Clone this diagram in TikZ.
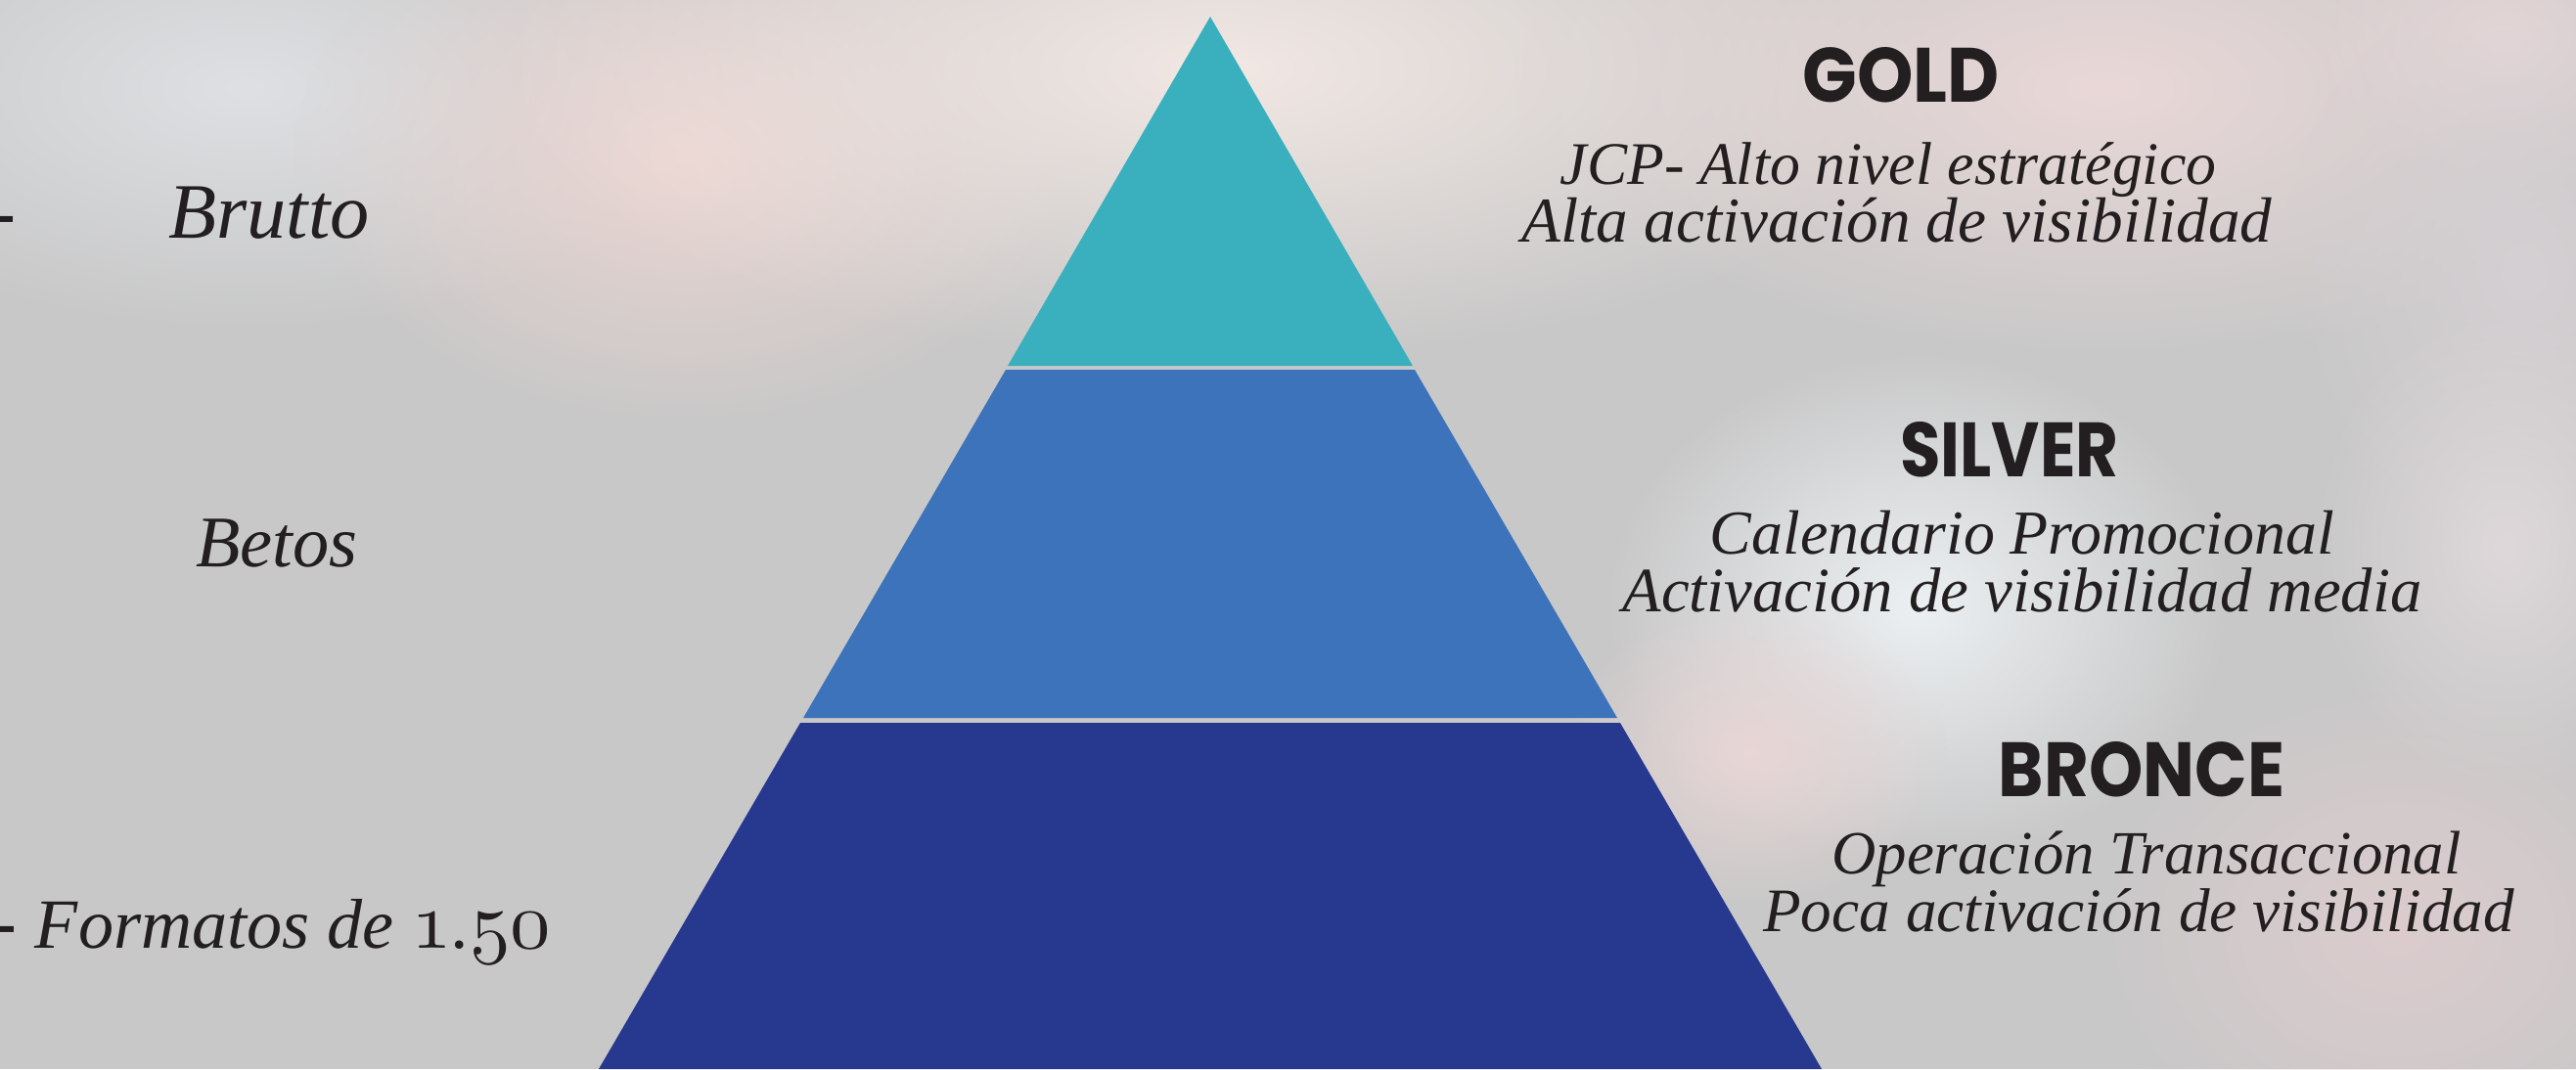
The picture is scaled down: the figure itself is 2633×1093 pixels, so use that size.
\documentclass[tikz,border=0pt]{standalone}
\usepackage{fontspec}
\setmainfont{Liberation Serif}
\newfontfamily\tierfont{Poppins}
\usepackage{graphicx}
\usetikzlibrary{fadings}
\tikzfading[name=softblob, inner color=transparent!0, outer color=transparent!100]
\definecolor{bgray}{HTML}{C8C8C8}
\definecolor{goldc}{HTML}{3AB0BF}
\definecolor{silverc}{HTML}{3D73BA}
\definecolor{bronzec}{HTML}{27388F}
\definecolor{inkc}{HTML}{231F20}
\newcommand\oldnum[1]{\scalebox{1.15}{\usefont{OML}{cmm}{m}{it}#1}}
\newcommand\fitw[2]{\resizebox{#1}{!}{#2}}
\newcommand\fith[3]{\resizebox{#1}{#2}{#3}}
\begin{document}
\begin{tikzpicture}[x=0.01cm,y=-0.01cm,
  head/.style={anchor=base, inner sep=0pt, outer sep=0pt, text=inkc},
  desc/.style={anchor=base, inner sep=0pt, outer sep=0pt, text=inkc, font=\itshape},
  blob/.style={path fading=softblob}]
\useasboundingbox (0,0) rectangle (2633,1093);
\begin{scope}
\clip (0,0) rectangle (2633,1093);
\fill[bgray] (0,0) rectangle (2633,1093);
\fill[blob, color={rgb,255:red,222;green,224;blue,227}] (250,90) ellipse [x radius=5cm, y radius=2.5cm];
\fill[blob, color={rgb,255:red,236;green,214;blue,210}] (700,160) ellipse [x radius=4cm, y radius=2.8cm];
\fill[blob, color={rgb,255:red,242;green,232;blue,228}] (1250,70) ellipse [x radius=7.5cm, y radius=3cm];
\fill[blob, color={rgb,255:red,234;green,216;blue,216}] (2150,90) ellipse [x radius=6cm, y radius=2.8cm];
\fill[blob, color={rgb,255:red,230;green,215;blue,216}] (2560,40) ellipse [x radius=2cm, y radius=1.5cm];
\fill[blob, color={rgb,255:red,213;green,208;blue,211}] (2580,280) ellipse [x radius=2.5cm, y radius=3cm];
\fill[blob, color={rgb,255:red,236;green,240;blue,242}] (1960,620) ellipse [x radius=3.2cm, y radius=2.6cm];
\fill[blob, color={rgb,255:red,233;green,214;blue,214}] (1790,770) ellipse [x radius=2cm, y radius=1.6cm];
\fill[blob, color={rgb,255:red,220;green,204;blue,206}] (2450,950) ellipse [x radius=3.2cm, y radius=2.6cm];
\fill[blob, color={rgb,255:red,222;green,216;blue,218}] (2560,560) ellipse [x radius=2cm, y radius=2.5cm];
\end{scope}
% pyramid tiers
\coordinate (apex) at (1237,17);
\fill[goldc] (apex) -- (1444,374) -- (1030,374) -- cycle;
\fill[silverc] (1028,378) -- (1446,378) -- (1653,734) -- (821,734) -- cycle;
\fill[bronzec] (818,739) -- (1656,739) -- (1862,1093) -- (612,1093) -- cycle;
% right labels
\node[head] (goldh) at (1943,104) {\fith{2.01cm}{0.56cm}{\tierfont\bfseries GOLD}};
\node[desc] (gold1) at (1930,188) {\fitw{6.70cm}{JCP- Alto nivel estratégico}};
\node[desc] (gold2) at (1939,247) {\fitw{7.66cm}{Alta activación de visibilidad}};
\node[head] (silverh) at (2054,487) {\fith{2.23cm}{0.56cm}{\tierfont\bfseries SILVER}};
\node[desc] (silver1) at (2067,566) {\fitw{6.38cm}{Calendario Promocional}};
\node[desc] (silver2) at (2067,625) {\fitw{8.16cm}{Activación de visibilidad media}};
\node[head] (bronceh) at (2189,814) {\fith{2.92cm}{0.56cm}{\tierfont\bfseries BRONCE}};
\node[desc] (bronce1) at (2194,893) {\fitw{6.43cm}{Operación Transaccional}};
\node[desc] (bronce2) at (2186,952) {\fitw{7.67cm}{Poca activación de visibilidad}};
% left labels
\node[desc, anchor=base east] (dash1) at (16,243) {\fontsize{23pt}{28pt}\selectfont -};
\node[desc] (brutto) at (275,243) {\fitw{2.05cm}{Brutto}};
\node[desc] (betos) at (283,579) {\fitw{1.65cm}{Betos}};
\node[desc, anchor=base east] (dash2) at (17,969) {\fontsize{23pt}{28pt}\selectfont -};
\node[desc, anchor=base west] (formatos) at (36,969) {\fitw{5.27cm}{Formatos de \oldnum{1}.\oldnum{50}}};
\end{tikzpicture}
\end{document}
